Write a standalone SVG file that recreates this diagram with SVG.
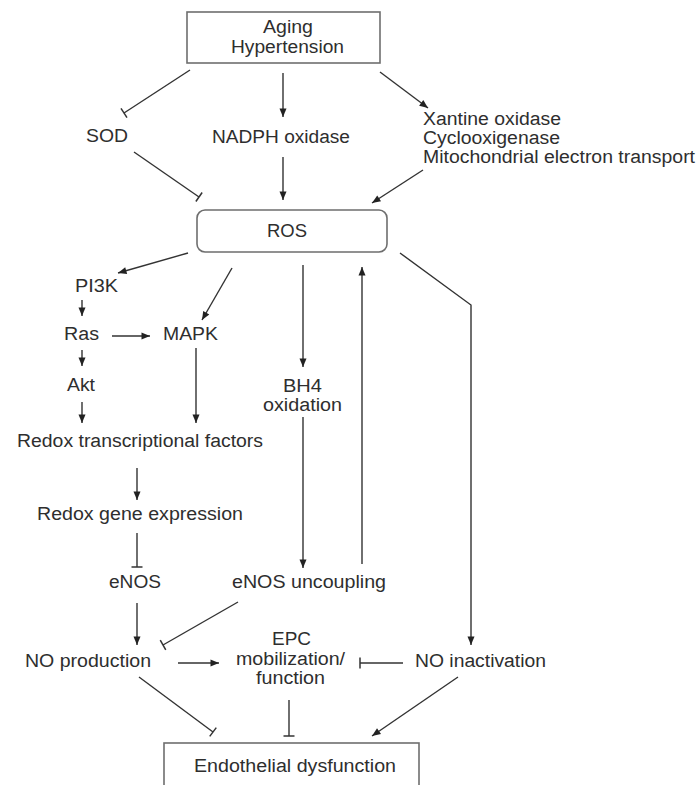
<svg xmlns="http://www.w3.org/2000/svg" width="699" height="785" viewBox="0 0 699 785">
<style>
text{font-family:"Liberation Sans",Arial,sans-serif;font-size:18px;fill:#2e2e2e}
.box{fill:#fff;stroke:#6e6e6e;stroke-width:1.6}
.c{fill:none;stroke:#333;stroke-width:1.4}
.a{marker-end:url(#arr)}
.t{marker-end:url(#tee)}
</style>
<defs>
<marker id="arr" markerUnits="userSpaceOnUse" markerWidth="10" markerHeight="8" viewBox="0 0 9 8" refX="8.5" refY="4" orient="auto">
<path d="M0,0.5 L8.5,4 L0,7.5 z" fill="#222"/>
</marker>
<marker id="tee" markerUnits="userSpaceOnUse" markerWidth="4" markerHeight="14" viewBox="0 0 4 14" refX="2" refY="7" orient="auto">
<path d="M2,1.5 L2,12.5" stroke="#333" stroke-width="1.5"/>
</marker>
</defs>
<g id="connectors">
<line class="c t" x1="190" y1="70" x2="124" y2="113"/>
<line class="c a" x1="283" y1="73" x2="283" y2="117"/>
<line class="c a" x1="380" y1="72" x2="428" y2="108"/>
<line class="c t" x1="134" y1="152" x2="199" y2="197"/>
<line class="c a" x1="283" y1="157" x2="283" y2="200"/>
<line class="c a" x1="423" y1="170" x2="372" y2="203"/>
<line class="c a" x1="188" y1="253" x2="118" y2="273"/>
<line class="c a" x1="232" y1="268" x2="202" y2="320"/>
<line class="c a" x1="303" y1="265" x2="303" y2="367"/>
<line class="c a" x1="82" y1="300" x2="82" y2="316"/>
<line class="c a" x1="112" y1="336" x2="150" y2="336"/>
<line class="c a" x1="82" y1="350" x2="82" y2="366"/>
<line class="c a" x1="82" y1="402" x2="82" y2="423"/>
<line class="c a" x1="196" y1="348" x2="196" y2="423"/>
<line class="c a" x1="303" y1="417" x2="303" y2="568"/>
<line class="c a" x1="362" y1="564" x2="362" y2="267"/>
<polyline class="c a" points="400,253 471,305 471,645"/>
<line class="c a" x1="137" y1="468" x2="137" y2="500"/>
<line class="c t" x1="137" y1="533" x2="137" y2="567"/>
<line class="c a" x1="137" y1="603" x2="137" y2="645"/>
<line class="c t" x1="238" y1="602" x2="163" y2="645"/>
<line class="c a" x1="178" y1="663" x2="219" y2="663"/>
<line class="c t" x1="403" y1="663" x2="360" y2="663"/>
<line class="c t" x1="139" y1="677" x2="213" y2="732"/>
<line class="c t" x1="289" y1="700" x2="289" y2="736"/>
<line class="c a" x1="458" y1="677" x2="372" y2="736"/>
</g>
<g id="aging">
<rect class="box" x="187" y="12" width="193" height="51"/>
<text x="263" y="33" textLength="50" lengthAdjust="spacingAndGlyphs">Aging</text>
<text x="231" y="53" textLength="113" lengthAdjust="spacingAndGlyphs">Hypertension</text>
</g>
<g id="sod"><text x="86" y="142" textLength="42" lengthAdjust="spacingAndGlyphs">SOD</text></g>
<g id="nadph"><text x="212" y="143" textLength="138" lengthAdjust="spacingAndGlyphs">NADPH oxidase</text></g>
<g id="sources">
<text x="423" y="125" textLength="138" lengthAdjust="spacingAndGlyphs">Xantine oxidase</text>
<text x="423" y="144" textLength="137" lengthAdjust="spacingAndGlyphs">Cyclooxigenase</text>
<text x="423" y="163" textLength="272" lengthAdjust="spacingAndGlyphs">Mitochondrial electron transport</text>
</g>
<g id="ros">
<rect class="box" x="197" y="210" width="190" height="42" rx="8"/>
<text x="267" y="237" textLength="40" lengthAdjust="spacingAndGlyphs">ROS</text>
</g>
<g id="pi3k"><text x="75" y="292" textLength="43" lengthAdjust="spacingAndGlyphs">PI3K</text></g>
<g id="ras"><text x="64" y="340" textLength="35" lengthAdjust="spacingAndGlyphs">Ras</text></g>
<g id="mapk"><text x="163" y="340" textLength="55" lengthAdjust="spacingAndGlyphs">MAPK</text></g>
<g id="akt"><text x="67" y="391" textLength="28" lengthAdjust="spacingAndGlyphs">Akt</text></g>
<g id="bh4">
<text x="283" y="392" textLength="39" lengthAdjust="spacingAndGlyphs">BH4</text>
<text x="263" y="411" textLength="79" lengthAdjust="spacingAndGlyphs">oxidation</text>
</g>
<g id="redox-tf"><text x="17" y="447" textLength="246" lengthAdjust="spacingAndGlyphs">Redox transcriptional factors</text></g>
<g id="redox-gene"><text x="37" y="520" textLength="206" lengthAdjust="spacingAndGlyphs">Redox gene expression</text></g>
<g id="enos"><text x="109" y="588" textLength="52" lengthAdjust="spacingAndGlyphs">eNOS</text></g>
<g id="enos-unc"><text x="232" y="588" textLength="154" lengthAdjust="spacingAndGlyphs">eNOS uncoupling</text></g>
<g id="no-prod"><text x="25" y="667" textLength="126" lengthAdjust="spacingAndGlyphs">NO production</text></g>
<g id="epc">
<text x="272" y="645" textLength="39" lengthAdjust="spacingAndGlyphs">EPC</text>
<text x="236" y="665" textLength="109" lengthAdjust="spacingAndGlyphs">mobilization/</text>
<text x="256" y="684" textLength="69" lengthAdjust="spacingAndGlyphs">function</text>
</g>
<g id="no-inact"><text x="415" y="667" textLength="131" lengthAdjust="spacingAndGlyphs">NO inactivation</text></g>
<g id="endo">
<rect class="box" x="164" y="743" width="255" height="60"/>
<text x="194" y="772" textLength="202" lengthAdjust="spacingAndGlyphs">Endothelial dysfunction</text>
</g>
</svg>
